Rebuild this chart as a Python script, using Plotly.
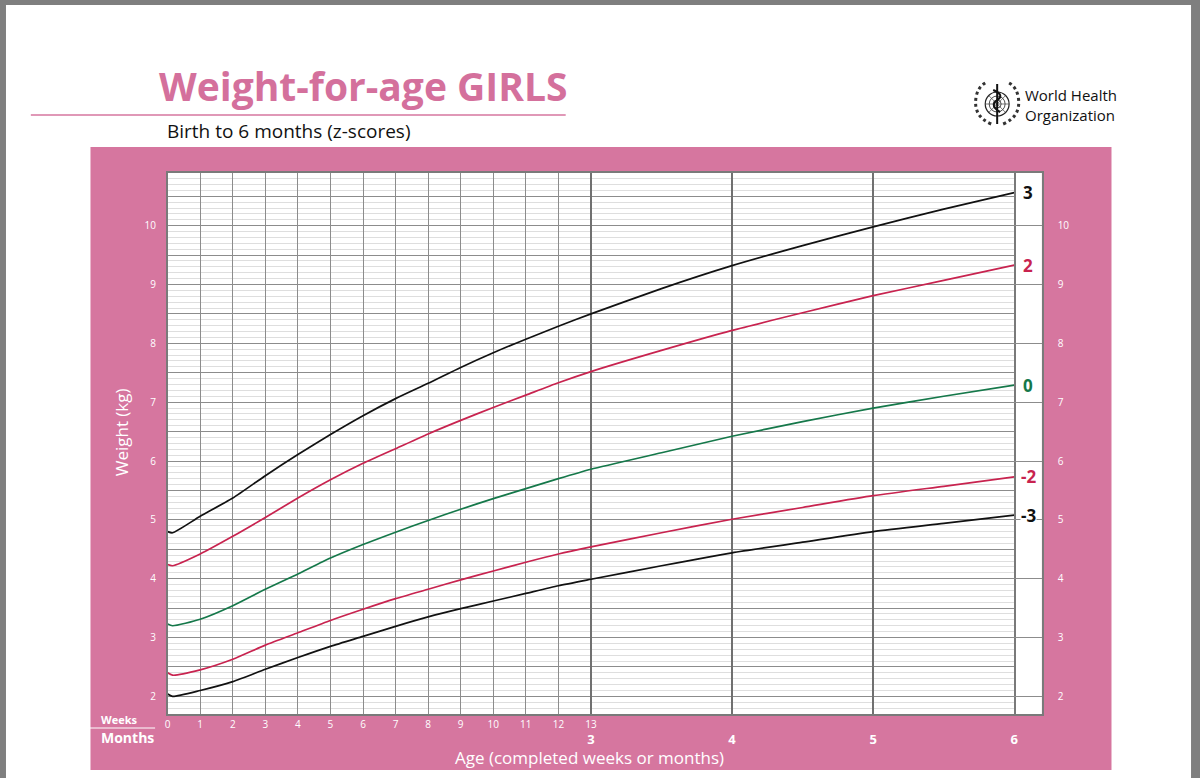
import plotly.graph_objects as go

# WHO weight-for-age, girls, birth to 6 months
week_ages = [0, 0.15, 1, 2, 3, 4, 5, 6, 7, 8, 9, 10, 11, 12, 13]
month_ages = [3.5, 4, 4.5, 5, 5.5, 6]
weeks_per_month = 13 / 3
ages = week_ages + [m * weeks_per_month for m in month_ages]

sd3 = [4.80, 4.78, 5.06, 5.37, 5.75, 6.11, 6.45, 6.77, 7.06, 7.32, 7.59, 7.84, 8.07, 8.29, 8.50,
       8.93, 9.32, 9.66, 9.98, 10.28, 10.56]
sd2 = [4.24, 4.22, 4.42, 4.72, 5.04, 5.37, 5.68, 5.96, 6.21, 6.46, 6.69, 6.91, 7.12, 7.33, 7.52,
       7.88, 8.22, 8.52, 8.81, 9.07, 9.33]
sd0 = [3.23, 3.20, 3.31, 3.54, 3.82, 4.08, 4.35, 4.58, 4.79, 4.99, 5.18, 5.36, 5.53, 5.70, 5.86,
       6.14, 6.42, 6.67, 6.90, 7.10, 7.29]
sd2neg = [2.40, 2.36, 2.45, 2.63, 2.87, 3.08, 3.29, 3.48, 3.66, 3.82, 3.98, 4.13, 4.28, 4.42, 4.54,
          4.78, 5.01, 5.21, 5.41, 5.57, 5.73]
sd3neg = [2.04, 2.00, 2.10, 2.25, 2.46, 2.66, 2.85, 3.02, 3.19, 3.35, 3.49, 3.62, 3.75, 3.88, 3.99,
          4.22, 4.44, 4.62, 4.80, 4.94, 5.08]

z_labels = ["3", "2", "0", "-2", "-3"]
week_ticks = list(range(0, 14))
month_ticks = [3, 4, 5, 6]
kg_ticks = [v / 2 for v in range(4, 22)]  # 2.0 .. 10.5

PINK = "#d6769f"
BLACK = "#111111"
RED = "#c8234f"
GREEN = "#15784a"
colors = [BLACK, RED, GREEN, RED, BLACK]
series = [sd3, sd2, sd0, sd2neg, sd3neg]

W, H = 1200, 778
FONT = "Open Sans"


def px(x):
    return x / W


def py(y):
    return 1 - y / H


def pt(x, y):
    return f"{px(x):.5f},{py(y):.5f}"


fig = go.Figure()

for vals, col in zip(series, colors):
    fig.add_trace(go.Scatter(x=ages, y=vals, mode="lines",
                             line=dict(color=col, width=1.7, shape="spline", smoothing=0.6),
                             hoverinfo="skip", showlegend=False))

# invisible traces so the month axis and the label column get drawn
fig.add_trace(go.Scatter(x=[0], y=[5], mode="markers", marker=dict(opacity=0),
                         xaxis="x3", yaxis="y", hoverinfo="skip", showlegend=False))
fig.add_trace(go.Scatter(x=[0.5], y=[5], mode="markers", marker=dict(opacity=0),
                         xaxis="x2", yaxis="y2", hoverinfo="skip", showlegend=False))

shapes = [
    # white page inside grey frame
    dict(type="rect", xref="paper", yref="paper", x0=px(3), x1=px(1195), y0=py(778), y1=py(5),
         fillcolor="white", line_width=0, layer="below"),
    # pink panel
    dict(type="rect", xref="paper", yref="paper", x0=px(88), x1=px(1115), y0=py(770), y1=py(147),
         fillcolor=PINK, line_width=0, layer="below"),
    # white chart area
    dict(type="rect", xref="paper", yref="paper", x0=px(165.6), x1=px(1045), y0=py(714), y1=py(172.7),
         fillcolor="white", line_width=0, layer="below"),
    # line under title
    dict(type="line", xref="paper", yref="paper", x0=px(28), x1=px(566), y0=py(115), y1=py(115),
         line=dict(color=PINK, width=1.5)),
    # line between Weeks and Months
    dict(type="line", xref="paper", yref="paper", x0=px(80), x1=px(153), y0=py(728), y1=py(728),
         line=dict(color="white", width=1)),
]

# simple WHO emblem
cx, cy = 1000, 104
for r, w in [(12, 1.2), (8, 0.8), (4, 0.8)]:
    shapes.append(dict(type="circle", xref="paper", yref="paper", x0=px(cx - r), x1=px(cx + r),
                       y0=py(cy + r), y1=py(cy - r), line=dict(color="#222", width=w)))
for dx, dy in [(12, 0), (8.5, 8.5), (8.5, -8.5)]:
    shapes.append(dict(type="line", xref="paper", yref="paper", x0=px(cx - dx), x1=px(cx + dx),
                       y0=py(cy - dy), y1=py(cy + dy), line=dict(color="#444", width=0.7)))
shapes.append(dict(type="line", xref="paper", yref="paper", x0=px(cx), x1=px(cx), y0=py(84), y1=py(124),
                   line=dict(color=BLACK, width=2)))
shapes.append(dict(type="path", xref="paper", yref="paper",
                   path=f"M {pt(996, 90)} Q {pt(1008, 95)} {pt(1000, 100)} Q {pt(992, 106)} {pt(1003, 112)}",
                   line=dict(color=BLACK, width=2)))
shapes.append(dict(type="path", xref="paper", yref="paper",
                   path=f"M {pt(994, 124)} Q {pt(975, 116)} {pt(979, 96)} Q {pt(981, 87)} {pt(988, 83)}",
                   line=dict(color="#333", width=3, dash="dot")))
shapes.append(dict(type="path", xref="paper", yref="paper",
                   path=f"M {pt(1006, 124)} Q {pt(1025, 116)} {pt(1021, 96)} Q {pt(1019, 87)} {pt(1012, 83)}",
                   line=dict(color="#333", width=3, dash="dot")))


def note(text, x, y, size, color="white", xanchor="center", **kw):
    return dict(text=text, x=px(x), y=py(y), xref="paper", yref="paper", xanchor=xanchor,
                yanchor="middle", showarrow=False, font=dict(family=FONT, size=size, color=color), **kw)


annotations = [
    note("<b>Weight-for-age GIRLS</b>", 155, 86, 39, "#d4709c", "left"),
    note("Birth to 6 months (z-scores)", 163, 131, 19, BLACK, "left"),
    note("World Health<br>Organization", 1026, 105, 15, BLACK, "left", align="left"),
    note("Weight (kg)", 119, 432, 17, textangle=-90),
    note("Age (completed weeks or months)", 590, 757, 17),
    note("<b>Weeks</b>", 97, 719, 11, xanchor="left"),
    note("<b>Months</b>", 97, 737, 14, xanchor="left"),
]

for lab, vals, col in zip(z_labels, series, colors):
    annotations.append(dict(text=f"<b>{lab}</b>", x=0.5, y=vals[-1], xref="x2", yref="y2",
                            xanchor="center", yanchor="middle", showarrow=False,
                            bgcolor="white", borderpad=0,
                            font=dict(family=FONT, size=17, color=col)))

GRID = "#8c8c8c"
x_dom = [px(165.6), px(1017.2)]
y_dom = [py(714), py(172.7)]
yrange = [1.7, 10.9]
xrange = [0, 6 * weeks_per_month]

fig.update_layout(
    width=W, height=H,
    margin=dict(l=0, r=0, t=0, b=0),
    paper_bgcolor="#7f7f7f",
    plot_bgcolor="rgba(0,0,0,0)",
    shapes=shapes,
    annotations=annotations,
    xaxis=dict(domain=x_dom, range=xrange, tickmode="array", tickvals=week_ticks,
               ticktext=[str(w) for w in week_ticks], showgrid=True, gridcolor=GRID, gridwidth=1.4,
               zeroline=False, showline=True, mirror=True, linecolor="#7a7a7a", linewidth=1.5,
               ticks="", ticklabelstandoff=0, tickfont=dict(family=FONT, size=10, color="white")),
    xaxis3=dict(overlaying="x", anchor="y", side="bottom", range=xrange, tickmode="array",
                tickvals=[m * weeks_per_month for m in month_ticks],
                ticktext=[f"<b>{m}</b>" for m in month_ticks], showgrid=True, gridcolor="#707070",
                gridwidth=1.8, zeroline=False, ticks="", ticklabelstandoff=16,
                tickfont=dict(family=FONT, size=13, color="white")),
    yaxis=dict(domain=y_dom, range=yrange, tickmode="array", tickvals=kg_ticks,
               ticktext=[str(int(v)) if v == int(v) else "" for v in kg_ticks],
               showgrid=True, gridcolor=GRID, gridwidth=1.3, zeroline=False,
               showline=True, mirror=True, linecolor="#7a7a7a", linewidth=1.5,
               ticks="", ticklabelstandoff=8, tickfont=dict(family=FONT, size=10, color="white"),
               minor=dict(tickmode="linear", tick0=0, dtick=0.1, showgrid=True,
                          gridcolor="#dedede", gridwidth=1)),
    xaxis2=dict(domain=[px(1017.2), px(1045)], range=[0, 1], showticklabels=False, showgrid=False,
                zeroline=False, showline=True, mirror=True, linecolor="#7a7a7a", linewidth=1.5,
                anchor="y2"),
    yaxis2=dict(domain=y_dom, range=yrange, anchor="x2", side="right", tickmode="array",
                tickvals=list(range(2, 11)), showgrid=True, gridcolor=GRID, gridwidth=1.2,
                zeroline=False, showline=True, mirror=False, linecolor="#7a7a7a", linewidth=1.5,
                ticks="", ticklabelstandoff=12, tickfont=dict(family=FONT, size=10, color="white")),
)

fig.write_html("out.html", config={"displayModeBar": False},
               post_script="document.body.style.margin='0';document.body.style.overflow='hidden';")
